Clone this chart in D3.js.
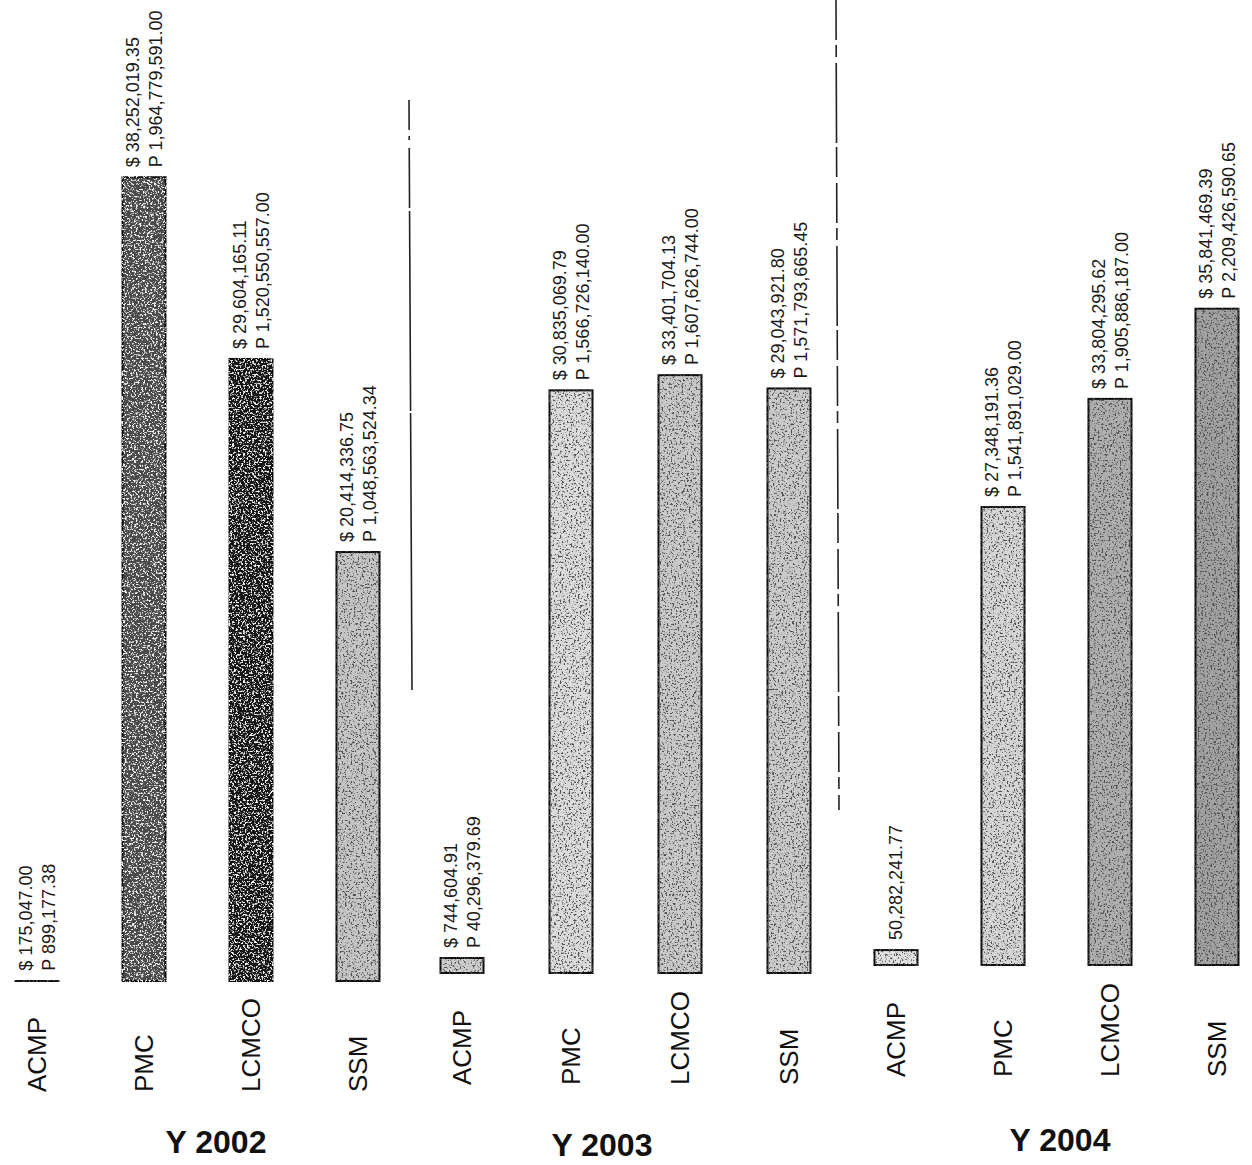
<!DOCTYPE html>
<html>
<head>
<meta charset="utf-8">
<script src="https://cdn.jsdelivr.net/npm/d3@7"></script>
<style>
  html, body { margin: 0; padding: 0; background: #fff; }
  svg { display: block; font-family: "Liberation Sans", Arial, sans-serif; }
</style>
</head>
<body>
<svg id="chart" width="1252" height="1165"></svg>
<script>
// Collections per office, three fiscal years (US dollars and pesos)
const categories = ["ACMP", "PMC", "LCMCO", "SSM"];
const years = ["Y 2002", "Y 2003", "Y 2004"];

const usd2002  = [175047, 38252019.35, 29604165.11, 20414336.75];
const peso2002 = [899177.38, 1964779591, 1520550557.00, 1048563524.34];

const usd2003  = [744604.91, 30835069.79, 33401704.13, 29043921.80];
const peso2003 = [40296379.69, 1566726140.00, 1607626744, 1571793665.45];

const usd2004  = [null, 27348191.36, 33804295.62, 35841469.39];
const peso2004 = [50282241.77, 1541891029.00, 1905886187.00, 2209426590.65];

// Bar fills and speckle style for each year
const fills2002 = ["#bdbdbd", "#4a4a4a", "#141414", "#c6c6c6"];
const fills2003 = ["#cdcdcd", "#dcdcdc", "#cacaca", "#cbcbcb"];
const fills2004 = ["#e2e2e2", "#d6d6d6", "#afafaf", "#a2a2a2"];
const grain2002 = ["dark", "light", "light", "dark"];
const grain2003 = ["dark", "dark", "dark", "dark"];
const grain2004 = ["dark", "dark", "dark", "dark"];

// Each year is its own small chart with its own value scale
const panels = [
  { year: years[0], usd: usd2002, peso: peso2002, fills: fills2002, grain: grain2002,
    x0: 15.5, x1: 379.5, pad: 0.598, base: 981, yMax: 2200e6, catBottom: 1092, titleX: 216, titleY: 1153 },
  { year: years[1], usd: usd2003, peso: peso2003, fills: fills2003, grain: grain2003,
    x0: 440.5, x1: 810.5, pad: 0.6055, base: 973, yMax: 2420e6, catBottom: 1085, titleX: 602, titleY: 1156 },
  { year: years[2], usd: usd2004, peso: peso2004, fills: fills2004, grain: grain2004,
    x0: 874.5, x1: 1238.5, pad: 0.598, base: 965, yMax: 3030e6, catBottom: 1077, titleX: 1060, titleY: 1151 }
];

const BAR_SPAN = 900; // pixel height that a panel's yMax maps to

const svg = d3.select("#chart");
const defs = svg.append("defs");

// Scanned-print speckle: dark specks on light bars, light specks on dark bars
function speckFilter(id, shade, seed) {
  const f = defs.append("filter").attr("id", id)
    .attr("x", "-10%").attr("y", "-2%").attr("width", "120%").attr("height", "104%");
  f.append("feTurbulence").attr("type", "fractalNoise")
    .attr("baseFrequency", 0.55).attr("numOctaves", 2).attr("seed", seed).attr("result", "noise");
  f.append("feColorMatrix").attr("in", "noise").attr("type", "matrix")
    .attr("values", `0 0 0 0 ${shade}  0 0 0 0 ${shade}  0 0 0 0 ${shade}  7 0 0 0 -3.75`)
    .attr("result", "specks");
  f.append("feComposite").attr("in", "specks").attr("in2", "SourceGraphic")
    .attr("operator", "in").attr("result", "clipped");
  const m = f.append("feMerge");
  m.append("feMergeNode").attr("in", "SourceGraphic");
  m.append("feMergeNode").attr("in", "clipped");
}
speckFilter("grain-dark", 0.08, 3);
speckFilter("grain-light", 0.95, 7);

const fmt = d3.format(",.2f");

panels.forEach(p => {
  const x = d3.scaleBand().domain(categories).range([p.x0, p.x1])
    .paddingInner(p.pad).paddingOuter(0);
  const y = d3.scaleLinear().domain([0, p.yMax]).range([p.base, p.base - BAR_SPAN]);

  const rows = categories.map((c, i) => ({
    cat: c, usd: p.usd[i], peso: p.peso[i], fill: p.fills[i], grain: p.grain[i]
  }));

  const g = svg.append("g");

  // bars
  g.selectAll("rect.bar").data(rows).join("rect")
    .attr("class", "bar")
    .attr("x", d => x(d.cat))
    .attr("width", x.bandwidth())
    .attr("y", d => y(d.peso))
    .attr("height", d => y(0) - y(d.peso))
    .attr("fill", d => d.fill)
    .attr("stroke", "#111")
    .attr("stroke-width", 2)
    .attr("filter", d => `url(#grain-${d.grain})`);

  // value labels, rotated, stacked above each bar
  rows.forEach(d => {
    const cx = x(d.cat) + x.bandwidth() / 2;
    const top = y(d.peso) - 10;
    const lines = d.usd == null
      ? [{ t: fmt(d.peso), dx: 6 }]
      : [{ t: "$ " + fmt(d.usd), dx: -5 }, { t: "P " + fmt(d.peso), dx: 18 }];
    lines.forEach(l => {
      g.append("text")
        .attr("transform", `translate(${cx + l.dx},${top}) rotate(-90)`)
        .attr("font-size", 18)
        .attr("fill", "#1a1a1a")
        .text(l.t);
    });
  });

  // category labels under the bars
  g.selectAll("text.cat").data(rows).join("text")
    .attr("class", "cat")
    .attr("transform", d => `translate(${x(d.cat) + x.bandwidth() / 2 + 9},${p.catBottom}) rotate(-90)`)
    .attr("font-size", 26)
    .attr("fill", "#111")
    .text(d => d.cat);

  // year caption
  g.append("text")
    .attr("x", p.titleX).attr("y", p.titleY)
    .attr("text-anchor", "middle")
    .attr("font-size", 32)
    .attr("font-weight", "bold")
    .attr("fill", "#111")
    .text(p.year);
});

// dividers between the year charts
svg.append("line")
  .attr("x1", 409).attr("x2", 412).attr("y1", 100).attr("y2", 690)
  .attr("stroke", "#222").attr("stroke-width", 1.6)
  .attr("stroke-dasharray", "30 6 4 8 60 3 200 2 300");
svg.append("line")
  .attr("x1", 836).attr("x2", 839).attr("y1", 0).attr("y2", 810)
  .attr("stroke", "#222").attr("stroke-width", 1.6)
  .attr("stroke-dasharray", "40 5 12 6 80 4 30 6");
</script>
</body>
</html>
